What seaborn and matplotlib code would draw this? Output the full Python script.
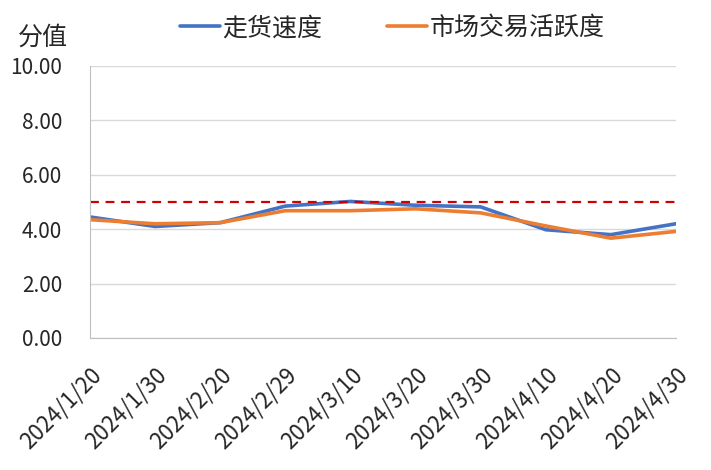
import numpy as np
import pandas as pd
import seaborn as sns
import matplotlib.pyplot as plt
from matplotlib.lines import Line2D

dates = ['2024/1/20', '2024/1/30', '2024/2/20', '2024/2/29', '2024/3/10',
         '2024/3/20', '2024/3/30', '2024/4/10', '2024/4/20', '2024/4/30']
speed = [4.45, 4.10, 4.24, 4.85, 5.02, 4.88, 4.82, 3.98, 3.80, 4.20]
activity = [4.35, 4.20, 4.24, 4.68, 4.68, 4.75, 4.60, 4.12, 3.67, 3.92]
threshold = 5.0

sns.set_style('white')
plt.rcParams['font.family'] = ['Noto Sans CJK SC', 'DejaVu Sans']

df = pd.DataFrame({'date': dates, '走货速度': speed, '市场交易活跃度': activity})
long = df.melt(id_vars='date', var_name='series', value_name='value')
long['x'] = long['date'].map({d: i for i, d in enumerate(dates)})

fig = plt.figure(figsize=(7.11, 4.70), dpi=100)
ax = fig.add_axes([90 / 711, 1 - 338 / 470, (676 - 90) / 711, (338 - 66) / 470])

sns.lineplot(data=long, x='x', y='value', hue='series', ax=ax,
             palette={'走货速度': '#4472C4', '市场交易活跃度': '#ED7D31'},
             linewidth=2.6, legend=False)
ax.axhline(threshold, color='#D00000', linestyle=(0, (4, 3)), linewidth=1.6)

# axes styling
ax.set_xlim(0, len(dates) - 1)
ax.set_ylim(0, 10)
ax.set_yticks(np.arange(0, 10.01, 2))
ax.set_yticklabels([f'{v:.2f}' for v in np.arange(0, 10.01, 2)], fontsize=15)
ax.set_xticks(range(len(dates)))
ax.set_xticklabels(dates, rotation=45, ha='right', rotation_mode='anchor', fontsize=16)
ax.set_xlabel('')
ax.set_ylabel('')
ax.grid(axis='y', color='#D9D9D9', linewidth=1)
for s in ['top', 'right']:
    ax.spines[s].set_visible(False)
for s in ['left', 'bottom']:
    ax.spines[s].set_color('#BFBFBF')
ax.tick_params(axis='both', length=6, color='#BFBFBF')
ax.tick_params(axis='y', pad=14)
ax.tick_params(axis='x', pad=12)

handles = [Line2D([], [], color='#4472C4', linewidth=2.6),
           Line2D([], [], color='#ED7D31', linewidth=2.6)]
fig.legend(handles, ['走货速度', '市场交易活跃度'], loc='center', ncol=2,
           bbox_to_anchor=(0.552, 0.94), frameon=False, fontsize=18,
           handlelength=1.6, handletextpad=0.1, columnspacing=2.6)

fig.text(18 / 711, 1 - 38 / 470, '分值', fontsize=18, va='center', ha='left')

fig.savefig('out.png', dpi=100)
